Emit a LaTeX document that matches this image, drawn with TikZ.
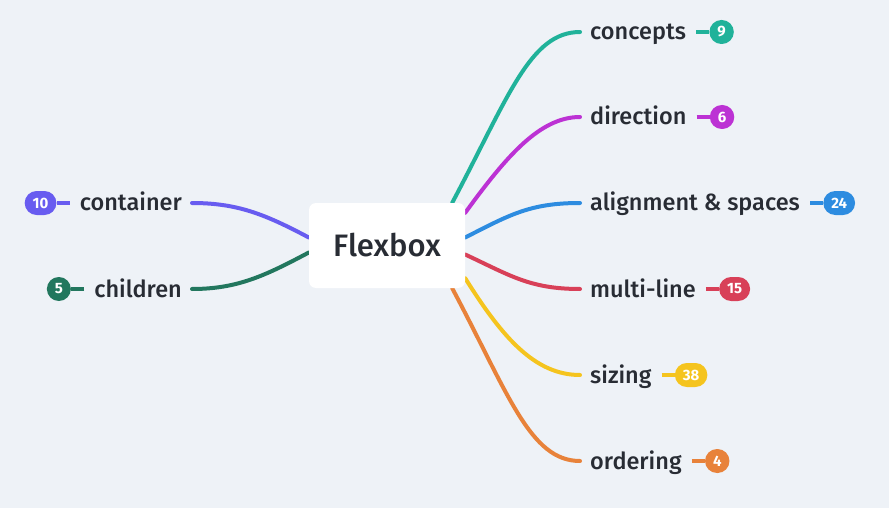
\documentclass[tikz,border=0pt]{standalone}
\usepackage{fontspec}
\setmainfont{Fira Sans Medium}[BoldFont=Fira Sans Bold]
\usetikzlibrary{positioning,backgrounds}
\definecolor{mmBack}{RGB}{238,242,247}
\definecolor{mmText}{RGB}{40,44,52}
\definecolor{mmTeal}{RGB}{32,178,154}
\definecolor{mmPurple}{RGB}{188,50,212}
\definecolor{mmBlue}{RGB}{45,140,224}
\definecolor{mmRed}{RGB}{216,64,88}
\definecolor{mmYellow}{RGB}{245,196,30}
\definecolor{mmOrange}{RGB}{232,130,58}
\definecolor{mmViolet}{RGB}{104,92,240}
\definecolor{mmGreen}{RGB}{34,119,94}
\tikzset{
    base/.style={font=\fontsize{23.5}{28}\selectfont, text=mmText},
    central/.style={base, rectangle, rounded corners=7pt, fill=white,
                    font=\fontsize{31}{36}\selectfont,
                    minimum width=156pt, minimum height=85pt},
    topic/.style={base, inner xsep=10pt, inner ysep=2pt,
                  text height=18.5pt, text depth=2.5pt},
    count/.style={font=\fontsize{15}{17}\selectfont\bfseries, text=white,
                  rectangle, rounded corners=12pt, minimum height=24pt,
                  minimum width=24pt, inner xsep=8pt, inner ysep=0pt},
    branch/.style={line width=4pt, line cap=round},
    tick/.style={line width=4pt}
}

\begin{document}
\begin{tikzpicture}[x=1pt, y=1pt, node distance=13pt]
  \useasboundingbox (0,0) rectangle (889,-508);

  % Central topic
  \node[central] (root) at (387,-245.5) {Flexbox};

  % Right topics
  \node[topic, anchor=west] (concepts) at (580,-32) {concepts};
  \node[topic, below=85pt of concepts.west, anchor=west] (direction) {direction};
  \node[topic, below=86pt of direction.west, anchor=west] (alignment) {alignment \& spaces};
  \node[topic, below=86pt of alignment.west, anchor=west] (multiline) {multi-line};
  \node[topic, below=86pt of multiline.west, anchor=west] (sizing) {sizing};
  \node[topic, below=86pt of sizing.west, anchor=west] (ordering) {ordering};

  % Left topics
  \node[topic, anchor=east] (container) at (192,-203) {container};
  \node[topic, below=86pt of container.east, anchor=east] (children) {children};

  % Counters
  \node[count, fill=mmTeal, right=of concepts] (conceptsNum) {9};
  \node[count, fill=mmPurple, right=of direction] (directionNum) {6};
  \node[count, fill=mmBlue, right=of alignment] (alignmentNum) {24};
  \node[count, fill=mmRed, right=of multiline] (multilineNum) {15};
  \node[count, fill=mmYellow, right=of sizing] (sizingNum) {38};
  \node[count, fill=mmOrange, right=of ordering] (orderingNum) {4};
  \node[count, fill=mmViolet, left=of container] (containerNum) {10};
  \node[count, fill=mmGreen, left=of children] (childrenNum) {5};

  % Branches
  \begin{scope}[on background layer]
    \fill[mmBack] (0,0) rectangle (889,-508);
    \draw[branch, mmTeal] ([xshift=-13pt]root.north east)
      to[out=62, in=180, out distance=120pt, in distance=50pt] (concepts.west);
    \draw[branch, mmPurple] ([yshift=-10pt]root.north east)
      to[out=54, in=180, out distance=70pt, in distance=40pt] (direction.west);
    \draw[branch, mmBlue] ([yshift=8pt]root.east)
      to[out=27, in=180, out distance=50pt, in distance=50pt] (alignment.west);
    \draw[branch, mmRed] ([yshift=-9pt]root.east)
      to[out=-25, in=180, out distance=50pt, in distance=50pt] (multiline.west);
    \draw[branch, mmYellow] ([yshift=10pt]root.south east)
      to[out=-58, in=180, out distance=70pt, in distance=45pt] (sizing.west);
    \draw[branch, mmOrange] ([xshift=-13pt]root.south east)
      to[out=-62, in=180, out distance=120pt, in distance=50pt] (ordering.west);
    \draw[branch, mmViolet] ([yshift=8pt]root.west)
      to[out=152, in=0, out distance=50pt, in distance=45pt] (container.east);
    \draw[branch, mmGreen] ([yshift=-7pt]root.west)
      to[out=208, in=0, out distance=50pt, in distance=45pt] (children.east);

    % Ticks to counters
    \draw[tick, mmTeal] (concepts) -- (conceptsNum);
    \draw[tick, mmPurple] (direction) -- (directionNum);
    \draw[tick, mmBlue] (alignment) -- (alignmentNum);
    \draw[tick, mmRed] (multiline) -- (multilineNum);
    \draw[tick, mmYellow] (sizing) -- (sizingNum);
    \draw[tick, mmOrange] (ordering) -- (orderingNum);
    \draw[tick, mmViolet] (container) -- (containerNum);
    \draw[tick, mmGreen] (children) -- (childrenNum);
  \end{scope}
\end{tikzpicture}
\end{document}
